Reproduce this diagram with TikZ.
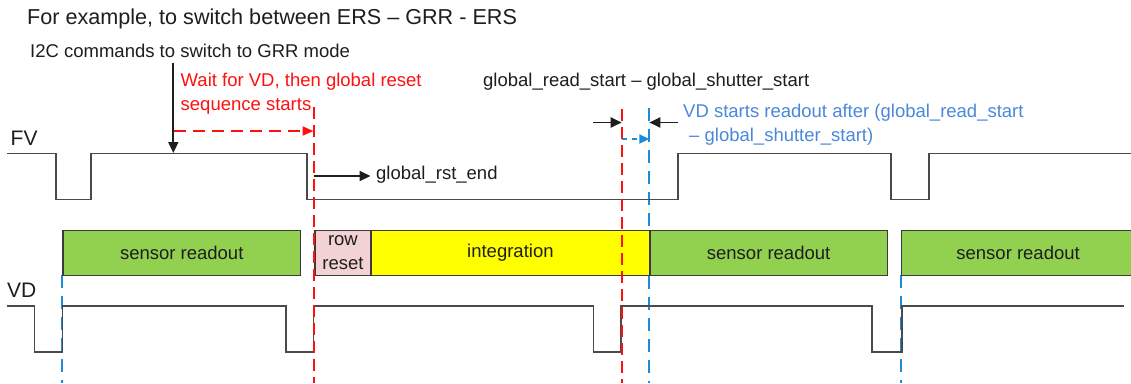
\documentclass[tikz,border=0pt]{standalone}
\usepackage{fontspec}
\setmainfont{Liberation Sans}
\usetikzlibrary{arrows.meta}
\definecolor{sigcol}{HTML}{4A4A4A}
\definecolor{boxline}{HTML}{3A3A3A}
\definecolor{txt}{HTML}{1E1E1E}
\definecolor{redc}{HTML}{FF1010}
\definecolor{bluetxt}{HTML}{4A88DA}
\definecolor{blueln}{HTML}{1C8BDC}
\definecolor{grn}{HTML}{92D050}
\definecolor{yel}{HTML}{FFFF00}
\definecolor{pnk}{HTML}{F2D2D2}
\tikzset{
  lbl/.style={inner sep=0pt, anchor=base west, text=txt, font=\fontsize{18.5}{24}\selectfont},
  siglbl/.style={inner sep=0pt, anchor=base west, text=txt, font=\fontsize{21}{24}\selectfont},
  signal/.style={draw=sigcol, line width=1.6pt, line join=miter},
  phase/.style={draw=boxline, line width=1.2pt, inner sep=0pt, anchor=north west, minimum height=45pt, text=txt, font=\fontsize{18.5}{24}\selectfont, align=center},
  blackarrow/.style={draw=txt, line width=1.9pt, -{Triangle[length=11pt,width=10pt]}},
  reddash/.style={draw=redc, line width=2pt, dash pattern=on 12pt off 6pt},
  bluedash/.style={draw=blueln, line width=1.8pt, dash pattern=on 13pt off 8pt}
}
\begin{document}
\begin{tikzpicture}[x=1pt,y=-1pt]
\useasboundingbox (0,0) rectangle (1131,383);
\fill[white] (0,0) rectangle (1131,383);

% texts
\node[lbl, font=\fontsize{21.6}{26}\selectfont] (title) at (27,24) {For example, to switch between ERS – GRR - ERS};
\node[lbl] (i2c) at (30,57.7) {I2C commands to switch to GRR mode};
\node[lbl, text=redc, align=left] (wait) at (180.5,110) {Wait for VD, then global reset\\sequence starts};
\node[lbl] (rstend) at (376,179) {global\_rst\_end};
\node[lbl] (diff) at (483,86.5) {global\_read\_start – global\_shutter\_start};
\node[lbl, text=bluetxt, align=left] (vdstart) at (683,141.5) {VD starts readout after (global\_read\_start\\\hspace*{6pt}– global\_shutter\_start)};
\node[siglbl] (fv) at (10.5,145) {FV};
\node[siglbl] (vd) at (7,297.3) {VD};

% dashed markers
\coordinate (b1t) at (62.3,275); \coordinate (b1b) at (62.3,383);
\coordinate (b3t) at (901,275); \coordinate (b3b) at (901,383);
\coordinate (b2t) at (649.3,108); \coordinate (b2b) at (649.3,383);
\coordinate (r1t) at (313.5,107); \coordinate (r1b) at (313.5,383);
\coordinate (r2t) at (621.7,109); \coordinate (r2b) at (621.7,383);
\draw[bluedash] (b1t) -- (b1b);
\draw[bluedash] (b3t) -- (b3b);
\draw[bluedash] (b2t) -- (b2b);

% phase boxes
\node[phase, fill=grn, minimum width=237.7pt] (sr1) at (62.3,230) {sensor readout};
\node[phase, fill=pnk, minimum width=56pt] (rr) at (314.3,230) {row\\reset};
\node[phase, fill=yel, minimum width=279pt] (integ) at (370.3,230) {integration};
\node[phase, fill=grn, minimum width=237.4pt] (sr2) at (649.3,230) {sensor readout};
\node[phase, fill=grn, minimum width=233pt] (sr3) at (901,230) {sensor readout};

% signals
\draw[signal] (7,153.5) -- (55.7,153.5) -- (55.7,199.3) -- (90.7,199.3) -- (90.7,153.5)
  -- (306.7,153.5) -- (306.7,199.3) -- (677.7,199.3) -- (677.7,153.5) -- (890.7,153.5)
  -- (890.7,199.3) -- (929,199.3) -- (929,153.5) -- (1132,153.5);
\draw[signal] (7,306) -- (34.3,306) -- (34.3,351.7) -- (62.3,351.7) -- (62.3,306)
  -- (285.7,306) -- (285.7,351.7) -- (313.3,351.7) -- (313.3,306) -- (593.3,306)
  -- (593.3,351.7) -- (621,351.7) -- (621,306) -- (871.7,306) -- (871.7,351.7)
  -- (901.7,351.7) -- (901.7,306) -- (1124.3,306);

\draw[reddash] (r1t) -- (r1b);
\draw[reddash] (r2t) -- (r2b);

% arrows
\coordinate (cmd) at (173.3,62.5);
\coordinate (cmdend) at (173.3,153);
\draw[blackarrow] (cmd) -- (cmdend);
\coordinate (ws) at (174,131);
\coordinate (we) at (313.5,131);
\draw[draw=redc, line width=1.8pt, dash pattern=on 12pt off 7pt, -{Triangle[length=11pt,width=9pt]}] (ws) -- (we);
\coordinate (gs) at (313.5,176);
\coordinate (ge) at (370.5,176);
\draw[blackarrow] (gs) -- (ge);
\coordinate (la) at (593,122.5);
\coordinate (ra) at (678,122.5);
\draw[blackarrow] (la) -- (r2t |- la);
\draw[blackarrow] (ra) -- (b2t |- ra);
\coordinate (bs) at (622,139);
\draw[draw=blueln, line width=1.8pt, dash pattern=on 5pt off 5pt, -{Triangle[length=10pt,width=9pt]}] (bs) -- (b2t |- bs);
\end{tikzpicture}
\end{document}
